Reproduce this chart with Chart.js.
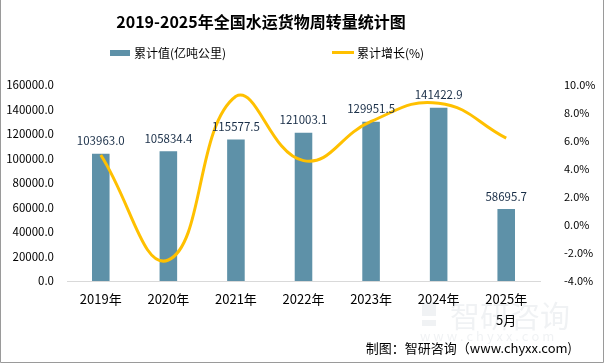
<!DOCTYPE html>
<html lang="zh-CN">
<head>
    <meta charset="UTF-8">
    <title>2019-2025年全国水运货物周转量统计图</title>
    <script src="https://cdn.jsdelivr.net/npm/chart.js@4.4.1/dist/chart.umd.min.js"></script>
    <style>
        html, body { margin: 0; padding: 0; background: #fff; }
        #wrap { width: 605px; height: 363px; position: relative; }
    </style>
</head>
<body>
    <div id="wrap"><canvas id="chart" width="605" height="363"></canvas></div>
    <script>
        // 数据
        const years = ['2019年', '2020年', '2021年', '2022年', '2023年', '2024年', ['2025年', '5月']];
        const totalValue = [103963.0, 105834.4, 115577.5, 121003.1, 129951.5, 141422.9, 58695.7];
        const growthRate = [5.0, -2.5, 9.2, 4.6, 7.4, 8.7, 6.2];

        const FONT = '"Noto Sans CJK SC", "Noto Sans", sans-serif';
        const barColor = '#5e91a8';
        const lineColor = '#ffc000';

        // 标题、图例、数值标签、来源
        const decor = {
            id: 'decor',
            afterDraw(chart) {
                const ctx = chart.ctx;
                ctx.save();
                // 外框
                ctx.strokeStyle = '#9a9a9a';
                ctx.lineWidth = 1;
                ctx.beginPath();
                ctx.moveTo(0.5, 0); ctx.lineTo(0.5, 362.5); ctx.lineTo(603.5, 362.5); ctx.lineTo(603.5, 0);
                ctx.stroke();

                // 标题
                ctx.fillStyle = '#000';
                ctx.font = 'bold 16px ' + FONT;
                ctx.textAlign = 'center';
                ctx.textBaseline = 'middle';
                ctx.fillText('2019-2025年全国水运货物周转量统计图', 261, 22);

                // 图例
                ctx.font = '12px ' + FONT;
                ctx.textAlign = 'left';
                ctx.fillStyle = barColor;
                ctx.fillRect(110, 50, 20, 6);
                ctx.fillStyle = '#000';
                ctx.fillText('累计值(亿吨公里)', 134, 53);
                ctx.strokeStyle = lineColor;
                ctx.lineWidth = 3;
                ctx.beginPath(); ctx.moveTo(332, 52.5); ctx.lineTo(354, 52.5); ctx.stroke();
                ctx.fillStyle = '#000';
                ctx.fillText('累计增长(%)', 357, 53);

                // 柱顶数值
                const meta = chart.getDatasetMeta(1);
                ctx.font = '11.5px ' + FONT;
                ctx.textAlign = 'center';
                ctx.textBaseline = 'bottom';
                ctx.fillStyle = '#1a2f48';
                meta.data.forEach((bar, i) => {
                    ctx.fillText(totalValue[i].toFixed(1), bar.x, bar.y - 7);
                });

                // 水印
                ctx.globalAlpha = 0.13;
                ctx.fillStyle = '#8a9aa8';
                ctx.font = '30px ' + FONT;
                ctx.textAlign = 'left';
                ctx.textBaseline = 'middle';
                ctx.fillText('智研咨询', 450, 316);
                ctx.font = '13px ' + FONT;
                ctx.fillText('w w w . c h y x x . c o m', 420, 336);
                ctx.fillRect(422, 302, 14, 14);
                ctx.fillRect(422, 320, 14, 6);
                ctx.globalAlpha = 1;

                // 来源
                ctx.fillStyle = '#000';
                ctx.font = '13px ' + FONT;
                ctx.textAlign = 'right';
                ctx.fillText('制图：智研咨询（www.chyxx.com)', 572, 348);
                ctx.restore();
            }
        };

        new Chart(document.getElementById('chart').getContext('2d'), {
            data: {
                labels: years,
                datasets: [
                    {
                        type: 'line', label: '累计增长(%)', data: growthRate, yAxisID: 'y1',
                        borderColor: lineColor, borderWidth: 3, pointRadius: 0, tension: 0.45,
                        fill: false, order: 0
                    },
                    {
                        type: 'bar', label: '累计值(亿吨公里)', data: totalValue, yAxisID: 'y',
                        backgroundColor: barColor, barPercentage: 0.26, categoryPercentage: 1, order: 1
                    }
                ]
            },
            options: {
                responsive: false,
                animation: false,
                devicePixelRatio: 1,
                layout: { padding: { top: 85, left: 0, right: 0, bottom: 0 } },
                plugins: { legend: { display: false }, tooltip: { enabled: false } },
                scales: {
                    x: {
                        grid: { display: false, drawTicks: false },
                        border: { display: true, color: '#d9d9d9' },
                        ticks: { color: '#000', font: { size: 13, family: FONT, lineHeight: 1.6 }, padding: 8, maxRotation: 0 },
                        afterFit(s) { s.height = 82; }
                    },
                    y: {
                        position: 'left', min: 0, max: 160000,
                        grid: { display: false, drawTicks: false },
                        border: { display: false },
                        ticks: { stepSize: 20000, color: '#000', font: { size: 11.5, family: FONT }, padding: 13,
                                 callback: v => v.toFixed(1) },
                        afterFit(s) { s.width = 67; }
                    },
                    y1: {
                        position: 'right', min: -4, max: 10,
                        grid: { display: false, drawTicks: false },
                        border: { display: false },
                        ticks: { stepSize: 2, color: '#000', font: { size: 11, family: FONT }, padding: 24,
                                 callback: v => v.toFixed(1) + '%' },
                        afterFit(s) { s.width = 65; }
                    }
                }
            },
            plugins: [decor]
        });
    </script>
</body>
</html>
